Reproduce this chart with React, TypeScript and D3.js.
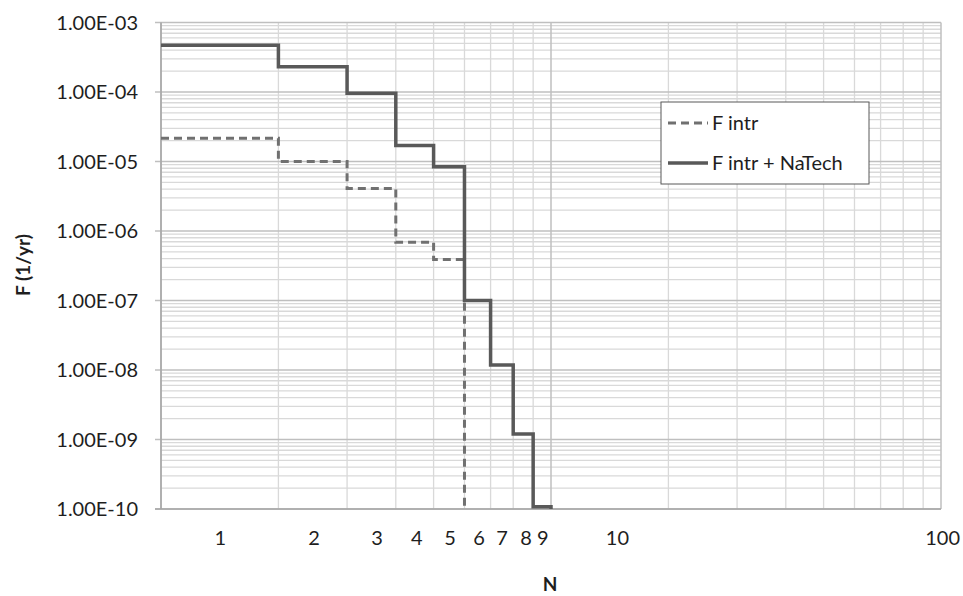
import React, { useEffect, useRef } from "react";
import * as d3 from "d3";

// Step values of the F-N curves (N = number of fatalities, F in 1/yr)
const nValues = [1, 2, 3, 4, 5, 6, 7, 8, 9, 10];
const fIntr = [2.16e-5, 1.0e-5, 4.1e-6, 6.9e-7, 3.9e-7, 1e-10];
const fIntrNatech = [4.7e-4, 2.3e-4, 9.6e-5, 1.7e-5, 8.4e-6, 1.0e-7, 1.18e-8, 1.2e-9, 1.08e-10, 1e-10];

const yTicks = [1e-3, 1e-4, 1e-5, 1e-6, 1e-7, 1e-8, 1e-9, 1e-10];
const xTickLabels = ["1", "2", "3", "4", "5", "6", "7", "8", "9", "10", "100"];
// N where each x label sits (labels are centred inside the interval)
const xTickAt = [1.42, 2.47, 3.58, 4.53, 5.51, 6.54, 7.49, 8.63, 9.53, 14.8, 101];

const seriesNames = ["F intr", "F intr + NaTech"];

const FONT = "Lato, 'Open Sans', sans-serif";
const TEXT = "#1e1e1e";

const App = () => {
  const ref = useRef<SVGSVGElement>(null);

  useEffect(() => {
    const svg = d3.select(ref.current);
    svg.selectAll("*").remove();

    const margin = { top: 22.5, right: 22, bottom: 87, left: 161 };
    const width = 963;
    const height = 596;

    const x = d3
      .scaleLog()
      .domain([1, 100])
      .range([margin.left, width - margin.right]);
    const y = d3
      .scaleLog()
      .domain([1e-10, 1e-3])
      .range([height - margin.bottom, margin.top]);

    // grid lines
    const hLines: { v: number; major: boolean }[] = [];
    for (let e = -10; e < -3; e++) {
      for (let k = 1; k <= 9; k++) hLines.push({ v: k * Math.pow(10, e), major: k === 1 });
    }
    hLines.push({ v: 1e-3, major: true });
    const vLines: { v: number; major: boolean }[] = [];
    for (let e = 0; e < 2; e++) {
      for (let k = 1; k <= 9; k++) vLines.push({ v: k * Math.pow(10, e), major: k === 1 });
    }
    vLines.push({ v: 100, major: true });

    const grid = svg.append("g");
    grid
      .selectAll(".hminor")
      .data(hLines.filter((d) => !d.major))
      .join("line")
      .attr("x1", x(1))
      .attr("x2", x(100))
      .attr("y1", (d) => y(d.v))
      .attr("y2", (d) => y(d.v))
      .attr("stroke", "#d9d9d9")
      .attr("stroke-width", 1.3);
    grid
      .selectAll(".vminor")
      .data(vLines.filter((d) => !d.major))
      .join("line")
      .attr("x1", (d) => x(d.v))
      .attr("x2", (d) => x(d.v))
      .attr("y1", y(1e-3))
      .attr("y2", y(1e-10))
      .attr("stroke", "#d9d9d9")
      .attr("stroke-width", 1.3);
    grid
      .selectAll(".hmajor")
      .data(hLines.filter((d) => d.major))
      .join("line")
      .attr("x1", x(1) - 6)
      .attr("x2", x(100))
      .attr("y1", (d) => y(d.v))
      .attr("y2", (d) => y(d.v))
      .attr("stroke", "#bfbfbf")
      .attr("stroke-width", 1.5);
    grid
      .selectAll(".vmajor")
      .data(vLines.filter((d) => d.major))
      .join("line")
      .attr("x1", (d) => x(d.v))
      .attr("x2", (d) => x(d.v))
      .attr("y1", y(1e-3))
      .attr("y2", y(1e-10))
      .attr("stroke", "#bfbfbf")
      .attr("stroke-width", 1.5);

    // axes lines
    svg
      .append("line")
      .attr("x1", x(1))
      .attr("x2", x(1))
      .attr("y1", y(1e-3))
      .attr("y2", y(1e-10))
      .attr("stroke", "#a6a6a6")
      .attr("stroke-width", 1.5);
    svg
      .append("line")
      .attr("x1", x(1) - 6)
      .attr("x2", x(100))
      .attr("y1", y(1e-10))
      .attr("y2", y(1e-10))
      .attr("stroke", "#a6a6a6")
      .attr("stroke-width", 1.5);

    // y tick labels
    svg
      .append("g")
      .selectAll("text")
      .data(yTicks)
      .join("text")
      .attr("x", 138)
      .attr("y", (d) => y(d))
      .attr("dy", "0.35em")
      .attr("text-anchor", "end")
      .attr("font-family", FONT)
      .attr("font-size", 20)
      .attr("fill", TEXT)
      .text((d) => d.toExponential(2).replace("e-", "E-0").replace("E-010", "E-10").toUpperCase());

    // x tick labels
    svg
      .append("g")
      .selectAll("text")
      .data(xTickLabels)
      .join("text")
      .attr("x", (d, i) => x(xTickAt[i]))
      .attr("y", 538)
      .attr("dy", "0.35em")
      .attr("text-anchor", "middle")
      .attr("font-family", FONT)
      .attr("font-size", 20)
      .attr("fill", TEXT)
      .text((d) => d);

    // axis titles
    svg
      .append("text")
      .attr("x", 550)
      .attr("y", 584)
      .attr("dy", "0.35em")
      .attr("text-anchor", "middle")
      .attr("font-family", FONT)
      .attr("font-size", 19)
      .attr("font-weight", "bold")
      .attr("fill", TEXT)
      .text("N");
    svg
      .append("text")
      .attr("transform", "translate(23,265) rotate(-90)")
      .attr("dy", "0.35em")
      .attr("text-anchor", "middle")
      .attr("font-family", FONT)
      .attr("font-size", 19)
      .attr("font-weight", "bold")
      .attr("fill", TEXT)
      .text("F (1/yr)");

    // step lines
    const line = d3
      .line<[number, number]>()
      .x((d) => x(d[0]))
      .y((d) => y(d[1]))
      .curve(d3.curveStepAfter);

    const dashedData = fIntr.map((f, i) => [nValues[i], f] as [number, number]);
    const solidData = fIntrNatech.map((f, i) => [nValues[i], f] as [number, number]);

    svg
      .append("path")
      .attr("d", line(dashedData))
      .attr("fill", "none")
      .attr("stroke", "#707070")
      .attr("stroke-width", 3)
      .attr("stroke-dasharray", "8,5");
    svg
      .append("path")
      .attr("d", line(solidData))
      .attr("fill", "none")
      .attr("stroke", "#595959")
      .attr("stroke-width", 3.5);

    // legend
    const lg = svg.append("g");
    lg.append("rect")
      .attr("x", 661)
      .attr("y", 102)
      .attr("width", 208)
      .attr("height", 82)
      .attr("fill", "#fff")
      .attr("stroke", "#595959")
      .attr("stroke-width", 1);
    seriesNames.forEach((name, i) => {
      const ly = 123 + i * 40;
      lg.append("line")
        .attr("x1", 668)
        .attr("x2", 708)
        .attr("y1", ly)
        .attr("y2", ly)
        .attr("stroke", i === 0 ? "#707070" : "#595959")
        .attr("stroke-width", i === 0 ? 3 : 3.5)
        .attr("stroke-dasharray", i === 0 ? "8,5" : null);
      lg.append("text")
        .attr("x", 712)
        .attr("y", ly)
        .attr("dy", "0.35em")
        .attr("font-family", FONT)
        .attr("font-size", 20)
        .attr("fill", TEXT)
        .text(name);
    });
  }, []);

  return (
    <svg
      ref={ref}
      width={963}
      height={596}
      style={{ position: "absolute", left: 0, top: 0, background: "#fff" }}
    />
  );
};

export default App;
